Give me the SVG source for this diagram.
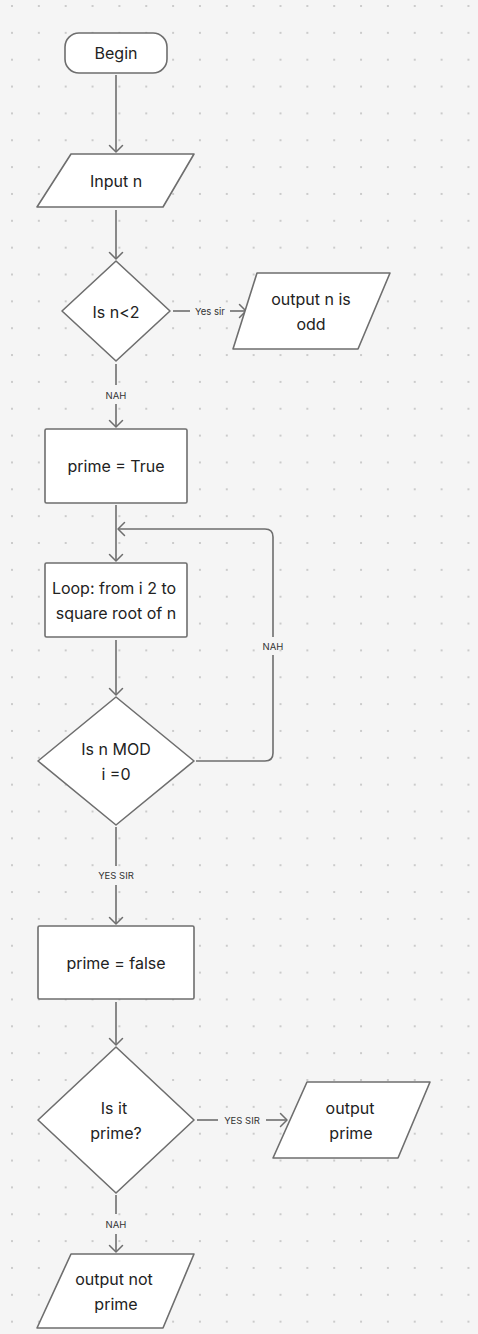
<svg xmlns="http://www.w3.org/2000/svg" width="478" height="1334" viewBox="0 0 478 1334">
<defs>
<pattern id="dots" x="12" y="6" width="26.85" height="26.85" patternUnits="userSpaceOnUse">
<circle cx="0" cy="0" r="1" fill="#bdbdbd"/>
<circle cx="26.85" cy="0" r="1" fill="#bdbdbd"/>
<circle cx="0" cy="26.85" r="1" fill="#bdbdbd"/>
<circle cx="26.85" cy="26.85" r="1" fill="#bdbdbd"/>
</pattern>
<marker id="arr" markerUnits="userSpaceOnUse" markerWidth="16" markerHeight="16" refX="8" refY="8" orient="auto">
<path d="M1.5,1.5 L8,8 L1.5,14.5" fill="none" stroke="#6e6e6e" stroke-width="1.5" stroke-linecap="round" stroke-linejoin="round"/>
</marker>
<style>
.shape{fill:#ffffff;stroke:#6e6e6e;stroke-width:1.6;stroke-linejoin:round}
.edge{fill:none;stroke:#6e6e6e;stroke-width:1.6}
.t{font-family:Inter,"Liberation Sans",sans-serif;font-size:16px;fill:#222222;text-anchor:middle;dominant-baseline:central}
.lbl{font-family:Inter,"Liberation Sans",sans-serif;font-size:9.5px;fill:#333333;text-anchor:middle;dominant-baseline:central}
</style>
</defs>
<rect width="478" height="1334" fill="#f5f5f5"/>
<rect width="478" height="1334" fill="url(#dots)"/>

<g id="connectors">
<line class="edge" x1="116" y1="75" x2="116" y2="152" marker-end="url(#arr)"/>
<line class="edge" x1="116" y1="210" x2="116" y2="259" marker-end="url(#arr)"/>
<line class="edge" x1="173" y1="311" x2="190" y2="311"/>
<text class="lbl" x="210" y="311">Yes sir</text>
<line class="edge" x1="230" y1="311" x2="246" y2="311" marker-end="url(#arr)"/>
<line class="edge" x1="116" y1="364" x2="116" y2="385"/>
<text class="lbl" x="116" y="395">NAH</text>
<line class="edge" x1="116" y1="404" x2="116" y2="427" marker-end="url(#arr)"/>
<line class="edge" x1="116" y1="505" x2="116" y2="561" marker-end="url(#arr)"/>
<line class="edge" x1="116" y1="640" x2="116" y2="695" marker-end="url(#arr)"/>
<path class="edge" d="M196,761 L265,761 Q273,761 273,753 L273,655"/>
<text class="lbl" x="273" y="646">NAH</text>
<path class="edge" d="M273,637 L273,537 Q273,529 265,529 L118,529" marker-end="url(#arr)"/>
<line class="edge" x1="116" y1="827" x2="116" y2="866"/>
<text class="lbl" x="116" y="875">YES SIR</text>
<line class="edge" x1="116" y1="885" x2="116" y2="924" marker-end="url(#arr)"/>
<line class="edge" x1="116" y1="1002" x2="116" y2="1045" marker-end="url(#arr)"/>
<line class="edge" x1="197" y1="1120" x2="218" y2="1120"/>
<text class="lbl" x="242" y="1120">YES SIR</text>
<line class="edge" x1="266" y1="1120" x2="287" y2="1120" marker-end="url(#arr)"/>
<line class="edge" x1="116" y1="1195" x2="116" y2="1214"/>
<text class="lbl" x="116" y="1224">NAH</text>
<line class="edge" x1="116" y1="1234" x2="116" y2="1252" marker-end="url(#arr)"/>
</g>

<g id="begin">
<rect class="shape" x="65" y="33" width="102" height="40" rx="14"/>
<text class="t" x="116" y="53">Begin</text>
</g>
<g id="input-n">
<path class="shape" d="M71,154 L194,154 L163,207 L37,207 Z"/>
<text class="t" x="116" y="181">Input n</text>
</g>
<g id="is-n-lt-2">
<path class="shape" d="M116,261 L170,311 L116,361 L62,311 Z"/>
<text class="t" x="116" y="312">Is n&lt;2</text>
</g>
<g id="output-odd">
<path class="shape" d="M257,273 L390,273 L358,349 L233,349 Z"/>
<text class="t" x="311" y="299">output n is</text>
<text class="t" x="311" y="324">odd</text>
</g>
<g id="prime-true">
<rect class="shape" x="45" y="429" width="142" height="74" rx="1.5"/>
<text class="t" x="116" y="466">prime = True</text>
</g>
<g id="loop">
<rect class="shape" x="45" y="563" width="142" height="74" rx="1.5"/>
<text class="t" x="114" y="588">Loop: from i 2 to</text>
<text class="t" x="116" y="613">square root of n</text>
</g>
<g id="is-n-mod">
<path class="shape" d="M116,697 L194,761 L116,825 L38,761 Z"/>
<text class="t" x="116" y="749">Is n MOD</text>
<text class="t" x="116" y="774">i =0</text>
</g>
<g id="prime-false">
<rect class="shape" x="38" y="926" width="156" height="73" rx="1.5"/>
<text class="t" x="116" y="963">prime = false</text>
</g>
<g id="is-it-prime">
<path class="shape" d="M116,1047 L194,1120 L116,1193 L38,1120 Z"/>
<text class="t" x="114" y="1108">Is it</text>
<text class="t" x="116" y="1133">prime?</text>
</g>
<g id="output-prime">
<path class="shape" d="M307,1082 L430,1082 L398,1158 L273,1158 Z"/>
<text class="t" x="350" y="1108">output</text>
<text class="t" x="351" y="1133">prime</text>
</g>
<g id="output-not-prime">
<path class="shape" d="M71,1254 L194,1254 L163,1328 L37,1328 Z"/>
<text class="t" x="114" y="1279">output not</text>
<text class="t" x="116" y="1304">prime</text>
</g>
</svg>
